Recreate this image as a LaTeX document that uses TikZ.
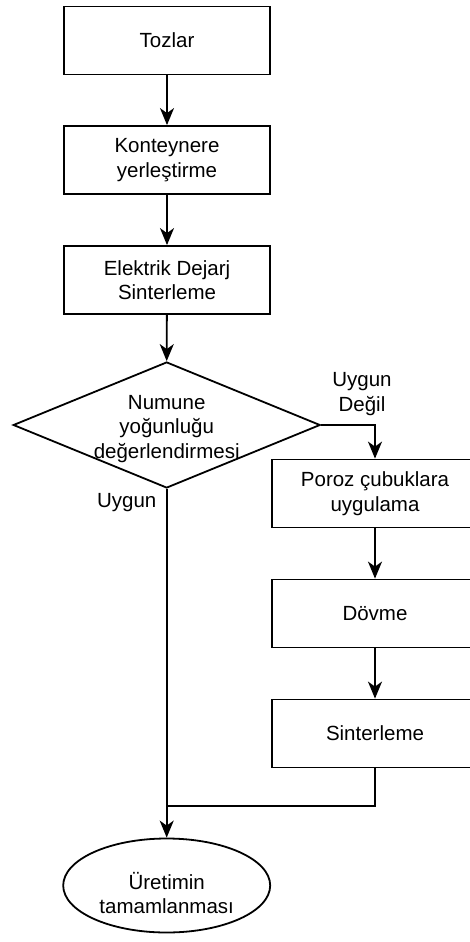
\documentclass[tikz,border=0pt]{standalone}
\usepackage{fontspec}
\setmainfont{Liberation Sans}
\usetikzlibrary{arrows.meta,shapes.geometric}
\begin{document}
\begin{tikzpicture}[x=1pt,y=-1pt,
  every node/.style={font=\fontsize{20.5}{24.5}\selectfont, align=center},
  box/.style={draw, line width=1.8pt, rectangle, minimum width=206pt, minimum height=68pt, inner sep=0pt},
  dia/.style={draw, line width=1.8pt, diamond, minimum width=307pt, minimum height=126pt, inner sep=0pt},
  term/.style={draw, line width=1.8pt, ellipse, minimum width=207pt, minimum height=94pt, inner sep=0pt},
  lbl/.style={inner sep=0pt},
  conn/.style={line width=1.8pt, -{Stealth[length=17pt,width=14pt,inset=5pt]}},
  plain/.style={line width=1.8pt}]
\useasboundingbox (0,0) rectangle (470,942);
\clip (0,0) rectangle (470,942);
\node[box] (tozlar) at (167,40.5) {Tozlar};
\node[box] (kont) at (167,160) {Konteynere\\yerleştirme};
\node[box] (elek) at (167,280) {Elektrik Dejarj\\Sinterleme};
\node[dia] (dia) at (166.7,425) {};
\node[lbl] (diatext) at (166.7,429) {Numune\\yoğunluğu\\değerlendirmesi};
\node[box] (poroz) at (375,493.5) {Poroz çubuklara\\uygulama};
\node[box] (dovme) at (375,613.5) {Dövme};
\node[box] (sint) at (375,733.5) {Sinterleme};
\node[term] (son) at (166.7,885.5) {};
\node[lbl] (sontext) at (166.7,893) {Üretimin\\tamamlanması};
\coordinate (join) at (166.7,806);
\node[lbl] (uygdegil) at (362,394) {Uygun\\Değil};
\node[lbl] (uyg) at (126.7,503) {Uygun};
\draw[conn] (tozlar) -- (kont);
\draw[conn] (kont) -- (elek);
\draw[conn] (elek) -- (dia.north);
\draw[conn] (dia.east) -| (poroz.north);
\draw[conn] (poroz) -- (dovme);
\draw[conn] (dovme) -- (sint);
\draw[plain] (sint.south) |- (join);
\draw[conn] (dia.south) -- (son.north);
\end{tikzpicture}
\end{document}
